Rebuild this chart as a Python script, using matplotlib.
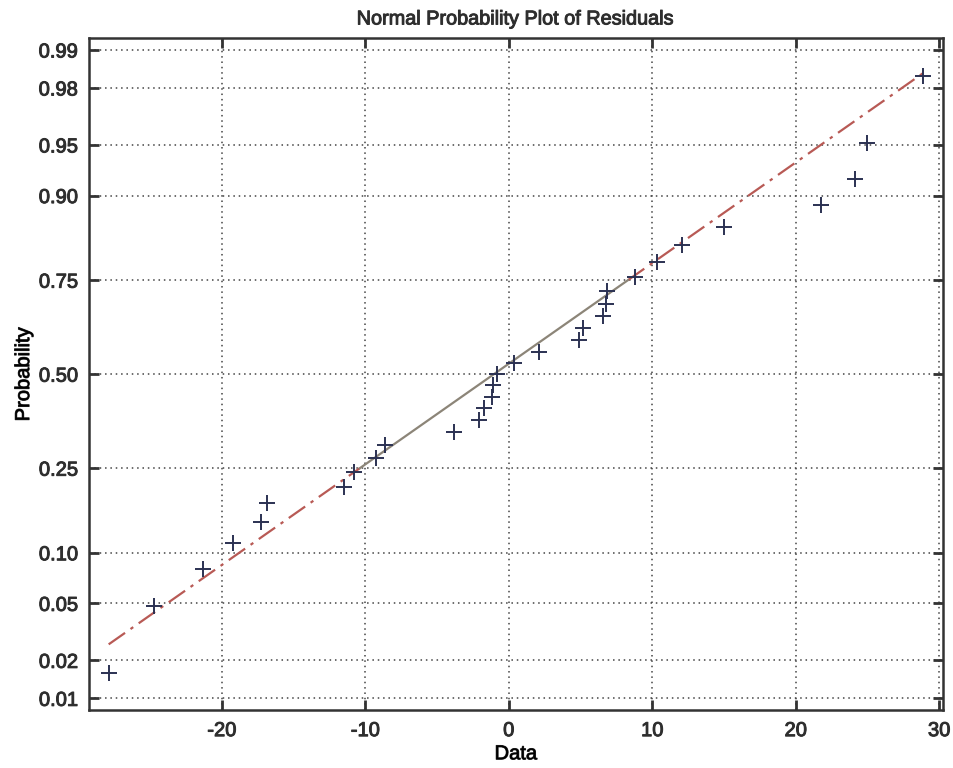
import numpy as np
import matplotlib
matplotlib.use('Agg')
import matplotlib.pyplot as plt
import matplotlib.patheffects as pe
from statistics import NormalDist

# residuals, sorted
residuals = [-27.88, -24.75, -21.34, -19.18, -17.25, -16.85, -11.51, -10.75,
             -9.24, -8.61, -3.78, -2.08, -1.71, -1.18, -1.11, -0.83,
             0.40, 2.12, 4.92, 5.20, 6.60, 6.76, 6.83, 8.80,
             10.32, 12.08, 15.00, 21.76, 24.13, 24.94, 28.89]
prob_ticks = [0.01, 0.02, 0.05, 0.10, 0.25, 0.50, 0.75, 0.90, 0.95, 0.98, 0.99]
prob_labels = ['0.01', '0.02', '0.05', '0.10', '0.25', '0.50', '0.75',
               '0.90', '0.95', '0.98', '0.99']
x_ticks = [-20, -10, 0, 10, 20, 30]

nd = NormalDist()
x = np.sort(np.array(residuals))
n = len(x)
z = np.array([nd.inv_cdf((i - 0.5) / n) for i in range(1, n + 1)])

# reference line through the quartiles (matlab style)
q1, q3 = np.percentile(x, [25, 75], method='hazen')
z1, z3 = nd.inv_cdf(0.25), nd.inv_cdf(0.75)
sig = (q3 - q1) / (z3 - z1)
mid = (q1 + q3) / 2


def zline(v):
    return (np.asarray(v) - mid) / sig


text_col = '#2e2e2e'
plt.rcParams['font.family'] = ['Liberation Sans', 'DejaVu Sans']
plt.rcParams['font.size'] = 14.5
plt.rcParams['text.color'] = text_col
plt.rcParams['axes.unicode_minus'] = False
thick = [pe.withStroke(linewidth=0.7, foreground=text_col)]

fig = plt.figure(figsize=(9.54, 7.68), dpi=100)
ax = fig.add_axes([0.0933, 0.0755, 0.9882 - 0.0933, 0.9501 - 0.0755])

ax.set_xlim(-29.25, 30.25)
ax.set_ylim(-2.41, 2.41)
ax.set_xticks(x_ticks)
ax.set_yticks([nd.inv_cdf(p) for p in prob_ticks])
ax.set_yticklabels(prob_labels)

ax.grid(True, linestyle=(0, (1, 2.5)), color='#444444', linewidth=1.1)
ax.set_axisbelow(True)
ax.tick_params(direction='in', length=7, width=2, color='#333333',
               top=True, right=True, labelsize=14.5, labelcolor=text_col, pad=8)
for lab in ax.get_xticklabels() + ax.get_yticklabels():
    lab.set_path_effects(thick)
for sp in ax.spines.values():
    sp.set_linewidth(1.8)
    sp.set_color('#333333')

# dash-dot extensions and solid middle
dashdot = (0, (9, 3, 1.5, 3))
ax.plot([x[0], q1], zline([x[0], q1]), color='#b85a55', linewidth=1.6,
        linestyle=dashdot)
ax.plot([q3, x[-1]], zline([q3, x[-1]]), color='#b85a55', linewidth=1.6,
        linestyle=dashdot)
ax.plot([q1, q3], zline([q1, q3]), color='#8c8578', linewidth=1.6)

ax.plot(x, z, linestyle='none', marker='+', markersize=11,
        markeredgewidth=1.4, color='#2b3152')

ax.set_title('Normal Probability Plot of Residuals', fontsize=14.3, pad=10,
             path_effects=thick)
ax.set_xlabel('Data', labelpad=3, path_effects=thick)
ax.set_ylabel('Probability', labelpad=4, path_effects=thick)

fig.savefig('out.png', dpi=100)
